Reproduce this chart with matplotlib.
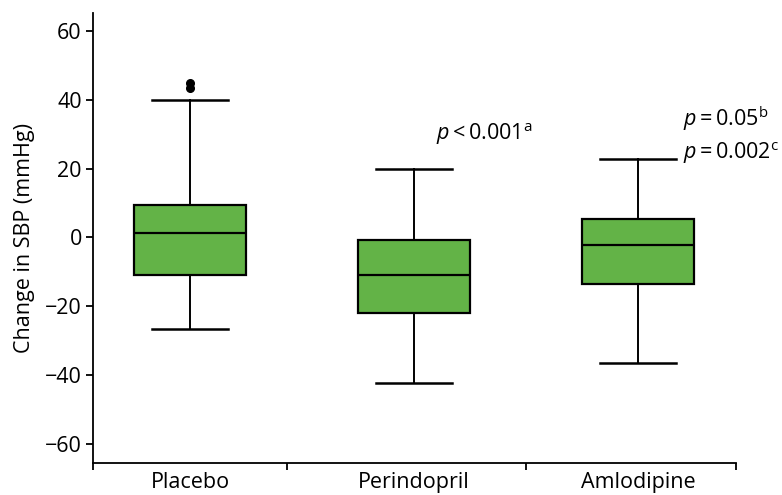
import matplotlib
matplotlib.use("Agg")
import matplotlib.pyplot as plt

plt.rcParams['font.family'] = ['Open Sans', 'DejaVu Sans']
plt.rcParams['mathtext.fontset'] = 'custom'
plt.rcParams['mathtext.rm'] = 'Open Sans'
plt.rcParams['mathtext.it'] = 'Open Sans:italic'

categories = ["Placebo", "Perindopril", "Amlodipine"]
whisker_low = [-26.5, -42.2, -36.4]
q1 = [-11.0, -22.0, -13.7]
median = [1.4, -11.0, -2.1]
q3 = [9.3, -0.7, 5.2]
whisker_high = [39.8, 20.0, 22.9]
outliers = [[43.3, 45.0], [], []]
yticks = [-60, -40, -20, 0, 20, 40, 60]
annotations = [
    (1.10, 30.0, r"$p$" + "\u2009<\u20090.001" + r"$^{\mathregular{a}}$"),
    (2.20, 34.6, r"$p$" + "\u2009=\u20090.05" + r"$^{\mathregular{b}}$"),
    (2.20, 24.5, r"$p$" + "\u2009=\u20090.002" + r"$^{\mathregular{c}}$"),
]

stats = []
for i, c in enumerate(categories):
    stats.append(dict(label=c, whislo=whisker_low[i], q1=q1[i], med=median[i],
                      q3=q3[i], whishi=whisker_high[i], fliers=outliers[i]))

fig = plt.figure(figsize=(7.82, 4.95), dpi=100)
ax = fig.add_axes([0.1189, 0.0653, 0.9412 - 0.1189, 0.973 - 0.0653])

positions = list(range(len(categories)))
ax.bxp(stats, positions=positions, widths=0.5, patch_artist=True,
       capwidths=0.335,
       boxprops=dict(facecolor="#63b347", edgecolor="black", linewidth=1.6),
       medianprops=dict(color="black", linewidth=1.6),
       whiskerprops=dict(color="black", linewidth=1.4),
       capprops=dict(color="black", linewidth=1.8),
       flierprops=dict(marker="o", markerfacecolor="black", markeredgecolor="black",
                       markersize=5.5))

ax.set_xlim(-0.433, 2.4375)
ax.set_ylim(-65.5, 65.1)
ax.set_yticks(yticks)
ax.set_yticklabels([("\u2212" + str(abs(v))) if v < 0 else str(v) for v in yticks])
ax.set_xticks(positions)
ax.set_xticklabels(categories)
ax.tick_params(axis='x', length=0, labelsize=15.5, pad=7)
ax.set_xticks([-0.433, 0.432, 1.5, 2.4375], minor=True)
ax.tick_params(axis='x', which='minor', length=5, width=1.3)
ax.tick_params(axis='y', length=5, width=1.3, labelsize=15.5, pad=3)

for s in ['top', 'right']:
    ax.spines[s].set_visible(False)
for s in ['left', 'bottom']:
    ax.spines[s].set_linewidth(1.3)

ax.set_ylabel("Change in SBP (mmHg)", fontsize=15.5, labelpad=7)

for x, y, t in annotations:
    ax.text(x, y, t, fontsize=15.5, ha='left', va='center')

fig.savefig("out.png", dpi=100)
